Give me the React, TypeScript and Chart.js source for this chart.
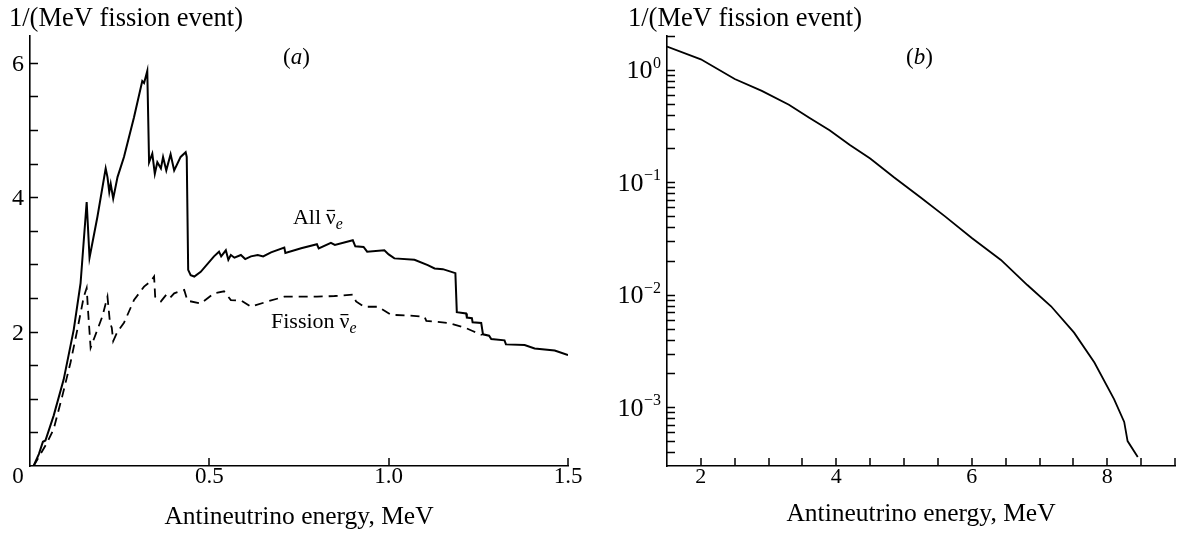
import React, { useEffect, useRef } from 'react';
import { Chart, registerables } from 'chart.js';
Chart.register(...registerables);

// ---------- data (a) ----------
const allEnergy = [0.01, 0.025, 0.036, 0.043, 0.066, 0.094, 0.122, 0.141, 0.158, 0.166, 0.188, 0.211, 0.216, 0.221, 0.225, 0.232, 0.244, 0.262, 0.29, 0.313, 0.318, 0.322, 0.327, 0.332, 0.341, 0.348, 0.355, 0.365, 0.371, 0.38, 0.392, 0.402, 0.42, 0.434, 0.437, 0.441, 0.448, 0.458, 0.476, 0.513, 0.527, 0.533, 0.546, 0.553, 0.56, 0.57, 0.588, 0.6, 0.616, 0.635, 0.65, 0.672, 0.709, 0.712, 0.756, 0.8, 0.805, 0.839, 0.85, 0.9, 0.907, 0.93, 0.94, 0.988, 1.0, 1.016, 1.072, 1.109, 1.128, 1.151, 1.186, 1.19, 1.216, 1.218, 1.232, 1.234, 1.258, 1.263, 1.28, 1.286, 1.323, 1.327, 1.379, 1.407, 1.463, 1.5];
const allValue = [0, 0.18, 0.36, 0.38, 0.75, 1.29, 2.03, 2.72, 3.93, 3.1, 3.71, 4.43, 4.3, 4.08, 4.2, 3.98, 4.3, 4.6, 5.19, 5.73, 5.7, 5.78, 5.88, 4.52, 4.65, 4.35, 4.52, 4.43, 4.6, 4.4, 4.64, 4.4, 4.6, 4.67, 4.6, 2.92, 2.84, 2.82, 2.89, 3.12, 3.19, 3.12, 3.21, 3.07, 3.14, 3.1, 3.14, 3.08, 3.12, 3.14, 3.12, 3.18, 3.25, 3.17, 3.24, 3.3, 3.24, 3.32, 3.29, 3.36, 3.27, 3.26, 3.19, 3.21, 3.15, 3.09, 3.07, 2.99, 2.94, 2.93, 2.87, 2.29, 2.27, 2.21, 2.2, 2.14, 2.13, 1.96, 1.94, 1.89, 1.87, 1.81, 1.8, 1.75, 1.72, 1.65];

const fissionEnergy = [0.01, 0.048, 0.066, 0.09, 0.113, 0.132, 0.15, 0.158, 0.162, 0.169, 0.188, 0.202, 0.216, 0.223, 0.228, 0.232, 0.244, 0.262, 0.29, 0.318, 0.337, 0.346, 0.349, 0.365, 0.38, 0.39, 0.402, 0.43, 0.439, 0.476, 0.513, 0.541, 0.56, 0.59, 0.616, 0.663, 0.709, 0.8, 0.849, 0.9, 0.909, 0.932, 0.97, 1.007, 1.054, 1.1, 1.105, 1.165, 1.212, 1.234, 1.26];
const fissionValue = [0, 0.35, 0.55, 1.04, 1.54, 2.03, 2.52, 2.65, 2.3, 1.76, 2.03, 2.23, 2.52, 2.13, 2.06, 1.86, 2.0, 2.13, 2.47, 2.67, 2.75, 2.82, 2.52, 2.45, 2.55, 2.5, 2.57, 2.62, 2.46, 2.42, 2.57, 2.6, 2.47, 2.46, 2.37, 2.45, 2.52, 2.52, 2.53, 2.55, 2.45, 2.37, 2.37, 2.25, 2.24, 2.22, 2.16, 2.13, 2.06, 2.01, 1.95];

// ---------- data (b) ----------
const logEnergy = [1.5, 2.0, 2.5, 2.9, 3.3, 3.6, 3.9, 4.2, 4.5, 4.85, 5.25, 5.6, 6.0, 6.43, 6.82, 7.17, 7.51, 7.81, 8.1, 8.25, 8.3, 8.45];
const logValue = [1.61, 1.24, 0.83, 0.65, 0.49, 0.375, 0.29, 0.215, 0.163, 0.111, 0.073, 0.05, 0.032, 0.0204, 0.0122, 0.0079, 0.0046, 0.0025, 0.00118, 0.00074, 0.0005, 0.00036];

// ---------- ticks / labels ----------
const leftXTickValues = [0.5, 1.0, 1.5];
const leftXLabelValues = [0.5, 1.0, 1.5];
const leftXLabelText = ['0.5', '1.0', '1.5'];
const leftYLabelValues = [2, 4, 6];
const rightXLabelValues = [2, 4, 6, 8];
const rightYExponents = [0, -1, -2, -3];

const yTitle = '1/(MeV fission event)';
const xTitle = 'Antineutrino energy, MeV';

const SERIF = '"Liberation Serif", "Times New Roman", Times, serif';
const INK = '#000';

function txt(ctx: CanvasRenderingContext2D, s: string, x: number, y: number, size: number, align: CanvasTextAlign = 'left', italic = false) {
  ctx.font = `${italic ? 'italic ' : ''}${size}px ${SERIF}`;
  ctx.textAlign = align;
  ctx.textBaseline = 'alphabetic';
  ctx.fillStyle = INK;
  ctx.fillText(s, x, y);
  return ctx.measureText(s).width;
}

function nuLabel(ctx: CanvasRenderingContext2D, prefix: string, x: number, y: number, size: number) {
  let cx = x + txt(ctx, prefix, x, y, size) + size * 0.22;
  const nw = txt(ctx, 'ν', cx, y, size);
  ctx.save();
  ctx.strokeStyle = INK;
  ctx.lineWidth = 1.2;
  ctx.beginPath();
  ctx.moveTo(cx + 1, y - size * 0.62);
  ctx.lineTo(cx + nw - 1, y - size * 0.62);
  ctx.stroke();
  ctx.restore();
  cx += nw;
  txt(ctx, 'e', cx, y + size * 0.22, size * 0.72, 'left', true);
}

function panelLabel(ctx: CanvasRenderingContext2D, letter: string, x: number, y: number, size: number) {
  let cx = x;
  cx += txt(ctx, '(', cx, y, size);
  cx += txt(ctx, letter, cx, y, size, 'left', true);
  txt(ctx, ')', cx, y, size);
}

function inwardTicks(chart: any, xVals: number[], yVals: number[]) {
  const ctx = chart.ctx as CanvasRenderingContext2D;
  const xs = chart.scales.x;
  const ys = chart.scales.y;
  const { left, bottom } = chart.chartArea;
  ctx.save();
  ctx.strokeStyle = INK;
  ctx.lineWidth = 1.5;
  ctx.beginPath();
  for (const v of xVals) {
    const px = Math.round(xs.getPixelForValue(v));
    ctx.moveTo(px, bottom);
    ctx.lineTo(px, bottom - 8);
  }
  for (const v of yVals) {
    const py = Math.round(ys.getPixelForValue(v)) + 0.5;
    ctx.moveTo(left, py);
    ctx.lineTo(left + 8, py);
  }
  ctx.stroke();
  ctx.restore();
}

const leftDecor = {
  id: 'leftDecor',
  afterDraw(chart: any) {
    const ctx = chart.ctx as CanvasRenderingContext2D;
    const xs = chart.scales.x;
    const ys = chart.scales.y;
    const { left, right, bottom } = chart.chartArea;
    const yTicks = ys.ticks.map((t: any) => t.value).filter((v: number) => v > ys.min);
    inwardTicks(chart, leftXTickValues, yTicks);
    txt(ctx, '0', left - 12, bottom + 17, 23, 'center');
    leftXLabelValues.forEach((v, i) => txt(ctx, leftXLabelText[i], xs.getPixelForValue(v), bottom + 17, 23, 'center'));
    leftYLabelValues.forEach((v) => txt(ctx, String(v), left - 6, ys.getPixelForValue(v) + 8, 24, 'right'));
    txt(ctx, yTitle, 9, 26, 26.5);
    txt(ctx, xTitle, (left + right) / 2, 524, 25.5, 'center');
    panelLabel(ctx, 'a', 283, 64, 23);
    nuLabel(ctx, 'All', xs.getPixelForValue(0.733), ys.getPixelForValue(3.6), 22);
    nuLabel(ctx, 'Fission', xs.getPixelForValue(0.672), ys.getPixelForValue(2.05), 22);
  },
};

const rightDecor = {
  id: 'rightDecor',
  afterDraw(chart: any) {
    const ctx = chart.ctx as CanvasRenderingContext2D;
    const xs = chart.scales.x;
    const ys = chart.scales.y;
    const { left, right, bottom } = chart.chartArea;
    const xTicks = xs.ticks.map((t: any) => t.value).filter((v: number) => v > xs.min);
    const yTicks: number[] = [];
    const e0 = Math.floor(Math.log10(ys.min));
    const e1 = Math.ceil(Math.log10(ys.max));
    for (let e = e0; e <= e1; e++) {
      for (let m = 1; m <= 9; m++) {
        const v = m * Math.pow(10, e);
        if (v > ys.min * 1.0001 && v <= ys.max * 1.0001) yTicks.push(v);
      }
    }
    inwardTicks(chart, xTicks, yTicks);
    rightXLabelValues.forEach((v) => txt(ctx, String(v), xs.getPixelForValue(v), bottom + 17, 22, 'center'));
    rightYExponents.forEach((e) => {
      const py = ys.getPixelForValue(Math.pow(10, e));
      const sup = e < 0 ? '\u2212' + String(-e) : String(e);
      ctx.font = `16px ${SERIF}`;
      const sw = ctx.measureText(sup).width;
      const rx = left - 6;
      txt(ctx, sup, rx - sw, py - 2, 16);
      txt(ctx, '10', rx - sw - 0.5, py + 8.5, 26, 'right');
    });
    txt(ctx, yTitle, 28, 26, 26.5);
    txt(ctx, xTitle, (left + right) / 2, 521, 25.5, 'center');
    panelLabel(ctx, 'b', 306, 64, 23);
  },
};

function axisCommon(min: number, max: number, fit: (s: any) => void, extra: any = {}) {
  return {
    min,
    max,
    ticks: { display: false, includeBounds: false, ...(extra.ticks || {}) },
    grid: { display: false, drawTicks: false },
    border: { display: true, color: INK, width: 1.6 },
    afterFit: fit,
  };
}

export default function App() {
  const leftRef = useRef<HTMLCanvasElement>(null);
  const rightRef = useRef<HTMLCanvasElement>(null);

  useEffect(() => {
    document.body.style.margin = '0';
    const lineStyle = { borderColor: INK, borderWidth: 2, pointRadius: 0, tension: 0, fill: false };
    const left = new Chart(leftRef.current as HTMLCanvasElement, {
      type: 'line',
      data: {
        datasets: [
          { ...lineStyle, data: allEnergy.map((x, i) => ({ x, y: allValue[i] })) },
          { ...lineStyle, borderWidth: 1.8, borderDash: [9, 6], data: fissionEnergy.map((x, i) => ({ x, y: fissionValue[i] })) },
        ],
      },
      options: {
        animation: false,
        responsive: false,
        maintainAspectRatio: false,
        layout: { padding: { left: 0, right: 32, top: 36, bottom: 0 } },
        plugins: { legend: { display: false }, tooltip: { enabled: false } },
        scales: {
          x: { type: 'linear', ...axisCommon(0, 1.5, (s: any) => { s.height = 67; }, { ticks: { stepSize: 0.5 } }) },
          y: { type: 'linear', ...axisCommon(0, 6.4, (s: any) => { s.width = 30; }, { ticks: { stepSize: 0.5 } }) },
        },
      } as any,
      plugins: [leftDecor],
    });
    const right = new Chart(rightRef.current as HTMLCanvasElement, {
      type: 'line',
      data: {
        datasets: [{ ...lineStyle, borderWidth: 1.8, data: logEnergy.map((x, i) => ({ x, y: logValue[i] })) }],
      },
      options: {
        animation: false,
        responsive: false,
        maintainAspectRatio: false,
        layout: { padding: { left: 0, right: 3, top: 36, bottom: 0 } },
        plugins: { legend: { display: false }, tooltip: { enabled: false } },
        scales: {
          x: { type: 'linear', ...axisCommon(1.5, 9, (s: any) => { s.height = 67; }, { ticks: { stepSize: 0.5 } }) },
          y: { type: 'logarithmic', ...axisCommon(3e-4, 2, (s: any) => { s.width = 67; }) },
        },
      } as any,
      plugins: [rightDecor],
    });
    return () => {
      left.destroy();
      right.destroy();
    };
  }, []);

  return (
    <div style={{ position: 'relative', width: 1178, height: 533, background: '#fff' }}>
      <canvas ref={leftRef} width={600} height={533} style={{ position: 'absolute', left: 0, top: 0, width: 600, height: 533 }} />
      <canvas ref={rightRef} width={578} height={533} style={{ position: 'absolute', left: 600, top: 0, width: 578, height: 533 }} />
    </div>
  );
}
